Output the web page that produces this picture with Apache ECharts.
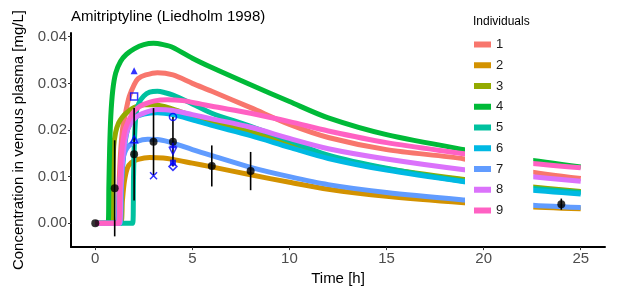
<!DOCTYPE html>
<html>
<head>
<meta charset="utf-8">
<script src="https://cdn.jsdelivr.net/npm/echarts@6/dist/echarts.min.js"></script>
<style>
  html, body { margin: 0; padding: 0; background: #fff; }
  #main { width: 618px; height: 291px; }
</style>
</head>
<body>
<div id="main"></div>
<script>
// simulated individual profiles [time h, conc mg/L]
var ind1 = [[0,0],[1.15,0],[1.22,0.008],[1.3,0.015],[1.4,0.020],[1.55,0.0235],[1.75,0.0272],[2,0.0297],[2.2,0.031],[2.6,0.0318],[3.2,0.0323],[4,0.0318],[5,0.0300],[6,0.0283],[8,0.0248],[10,0.0212],[12,0.0184],[15,0.0158],[19,0.0138],[22,0.0113],[25,0.0096]];
var ind2 = [[0,0],[1.3,0],[1.4,0.005],[1.5,0.009],[1.65,0.0118],[1.85,0.0130],[2.2,0.0137],[2.8,0.0141],[3.5,0.0140],[4,0.0137],[5,0.0129],[6,0.0121],[8,0.0104],[10,0.0088],[12,0.0073],[15,0.0058],[19,0.0044],[22,0.0036],[25,0.0031]];
var ind3 = [[0,0],[0.86,0],[0.9,0.010],[0.95,0.0165],[1.05,0.0195],[1.2,0.0215],[1.4,0.0228],[1.65,0.0238],[2,0.0248],[2.5,0.0254],[3,0.0254],[4,0.0245],[5,0.0230],[6,0.0217],[8,0.0196],[10,0.0170],[12,0.0143],[15,0.0117],[19,0.0094],[22,0.0080],[25,0.0068]];
var ind4 = [[0,0],[0.66,0],[0.7,0.008],[0.74,0.016],[0.8,0.023],[0.9,0.0285],[1.05,0.0322],[1.3,0.0347],[1.6,0.0362],[2,0.0374],[2.5,0.0383],[3,0.0386],[3.5,0.0383],[4,0.0377],[5,0.0354],[6,0.0334],[8,0.0297],[10,0.0261],[12,0.0226],[15,0.0190],[19,0.0158],[22,0.0138],[25,0.0121]];
var ind5 = [[0,0],[1.93,0],[1.97,0.010],[2.02,0.018],[2.1,0.0235],[2.25,0.0258],[2.5,0.0273],[2.8,0.0281],[3.2,0.0283],[3.6,0.0280],[4,0.0275],[5,0.0256],[6,0.0236],[8,0.0208],[10,0.0177],[12,0.0146],[15,0.0118],[19,0.0090],[22,0.0077],[25,0.0066]];
var ind6 = [[0,0],[1.28,0],[1.35,0.008],[1.45,0.014],[1.6,0.019],[1.8,0.0215],[2,0.0226],[2.5,0.0234],[3.2,0.0237],[4,0.0233],[5,0.0222],[6,0.0210],[8,0.0188],[10,0.0163],[12,0.0139],[15,0.0114],[19,0.0089],[22,0.0073],[25,0.0063]];
var ind7 = [[0,0],[1.15,0],[1.22,0.006],[1.3,0.0105],[1.4,0.0135],[1.55,0.0155],[1.75,0.0167],[2.1,0.0175],[2.7,0.0180],[3.3,0.0179],[4,0.0172],[5,0.0158],[6,0.0145],[8,0.0120],[10,0.0100],[12,0.0083],[15,0.0066],[19,0.0050],[22,0.0040],[25,0.0034]];
var ind8 = [[0,0],[1.25,0],[1.32,0.007],[1.4,0.013],[1.52,0.0175],[1.7,0.0205],[2.1,0.0228],[2.6,0.0238],[3.2,0.0244],[4,0.0242],[5,0.0233],[6,0.0224],[8,0.0206],[10,0.0182],[12,0.0160],[15,0.0138],[19,0.0115],[22,0.0102],[25,0.0090]];
var ind9 = [[0,0],[1.2,0],[1.26,0.007],[1.32,0.0135],[1.42,0.0175],[1.55,0.0203],[1.9,0.0235],[2.2,0.0248],[2.5,0.0255],[3,0.0262],[3.7,0.0265],[4.5,0.0263],[5.4,0.0256],[6,0.0251],[8,0.0236],[10,0.0218],[12,0.0198],[15,0.0173],[19,0.0149],[22,0.0131],[25,0.0119]];
var individuals = ['1', '2', '3', '4', '5', '6', '7', '8', '9'];
var profiles = [ind1, ind2, ind3, ind4, ind5, ind6, ind7, ind8, ind9];

// mean observed data with sd
var obsTime = [0, 1, 2, 3, 4, 6, 8, 24];
var obsMean = [0, 0.0075, 0.0148, 0.0175, 0.0175, 0.0123, 0.0112, 0.0041];
var obsSd = [0, 0.0103, 0.0099, 0.0072, 0.0053, 0.0044, 0.0041, 0.0012];

// individual observed points (one per shape)
var obsFilledTriangle = [[2, 0.0327]];
var obsOpenSquare = [[2, 0.0272]];
var obsOpenTriangle = [[2, 0.0180]];
var obsCross = [[3, 0.0102]];
var obsOpenCircle = [[4, 0.0228]];
var obsPlus = [[4, 0.0165]];
var obsTriangleDown = [[4, 0.0155]];
var obsFilledSquare = [[4, 0.0130]];
var obsOpenDiamond = [[4, 0.0122]];

var xTicks = [0, 5, 10, 15, 20, 25];
var yTicks = [0, 0.01, 0.02, 0.03, 0.04];

var colors = ['#F8766D', '#D39200', '#93AA00', '#00BA38', '#00C19F', '#00B9E3', '#619CFF', '#DB72FB', '#FF61C3'];
var font = 'Liberation Sans, Arial, sans-serif';

var myChart = echarts.init(document.getElementById('main'));

var series = [];
profiles.forEach(function (p, i) {
  series.push({
    name: individuals[i],
    type: 'line',
    data: p,
    showSymbol: false,
    smooth: 0.3,
    lineStyle: { width: 5, color: colors[i], join: 'round' },
    itemStyle: { color: colors[i] },
    emphasis: { disabled: true },
    z: 2
  });
});

// error bars
series.push({
  type: 'custom',
  data: obsTime.map(function (t, i) { return [t, obsMean[i] - obsSd[i], obsMean[i] + obsSd[i]]; }),
  renderItem: function (params, api) {
    var lo = api.coord([api.value(0), api.value(1)]);
    var hi = api.coord([api.value(0), api.value(2)]);
    return {
      type: 'line',
      shape: { x1: lo[0], y1: lo[1], x2: hi[0], y2: hi[1] },
      style: { stroke: '#000', lineWidth: 1.6 }
    };
  },
  z: 3
});
series.push({
  type: 'scatter',
  data: obsTime.map(function (t, i) { return [t, obsMean[i]]; }),
  symbolSize: 8,
  itemStyle: { color: '#000' },
  z: 4
});

var blue = '#0000FF';
function marker(data, symbol, hollow, size) {
  return {
    type: 'scatter',
    data: data,
    symbol: symbol,
    symbolSize: size || 7,
    itemStyle: hollow ? { color: 'rgba(0,0,0,0)', borderColor: blue, borderWidth: 1.5 } : { color: blue },
    z: 5
  };
}
series.push(marker(obsFilledTriangle, 'triangle', false));
series.push(marker(obsOpenSquare, 'rect', true));
series.push(marker(obsOpenTriangle, 'triangle', true));
series.push(marker(obsCross, 'path://M0,0L10,10M10,0L0,10', true));
series.push(marker(obsOpenCircle, 'circle', true));
series.push(marker(obsPlus, 'path://M5,0L5,10M0,5L10,5', true));
series.push(marker(obsTriangleDown, 'path://M0,0L10,0L5,8.66Z', true));
series.push(marker(obsFilledSquare, 'rect', false, 6));
series.push(marker(obsOpenDiamond, 'diamond', true, 8));

var option = {
  animation: false,
  title: [
    { text: 'Amitriptyline (Liedholm 1998)', left: 71, top: 9, padding: 0,
      textStyle: { fontFamily: font, fontSize: 15, fontWeight: 'normal', color: '#000' } },
    { text: 'Individuals', left: 473, top: 16, padding: 0,
      textStyle: { fontFamily: font, fontSize: 12, fontWeight: 'normal', color: '#000' } }
  ],
  legend: {
    data: individuals,
    orient: 'vertical',
    left: 465,
    top: 10,
    padding: [28, 30, 12, 9],
    backgroundColor: '#fff',
    icon: 'rect',
    itemWidth: 17,
    itemHeight: 6,
    itemGap: 7.75,
    selectedMode: false,
    textStyle: { fontFamily: font, fontSize: 13, color: '#1a1a1a' }
  },
  grid: { left: 71, right: 13, top: 33, bottom: 43 },
  xAxis: {
    type: 'value',
    min: -1.25,
    max: 26.25,
    name: 'Time [h]',
    nameLocation: 'middle',
    nameGap: 16,
    nameTextStyle: { fontFamily: font, fontSize: 15, color: '#000' },
    axisLine: { onZero: false, lineStyle: { color: '#000', width: 2 } },
    axisTick: { customValues: xTicks, length: 3, lineStyle: { color: '#333' } },
    axisLabel: { customValues: xTicks, fontFamily: font, fontSize: 15, color: '#4d4d4d', margin: 4 },
    splitLine: { show: false }
  },
  yAxis: {
    type: 'value',
    min: -0.0051,
    max: 0.0408,
    name: 'Concentration in venous plasma [mg/L]',
    nameLocation: 'middle',
    nameGap: 45,
    nameTextStyle: { fontFamily: font, fontSize: 15, color: '#000' },
    axisLine: { show: true, onZero: false, lineStyle: { color: '#000', width: 2 } },
    axisTick: { show: true, customValues: yTicks, length: 3, lineStyle: { color: '#333' } },
    axisLabel: { customValues: yTicks, fontFamily: font, fontSize: 15, color: '#4d4d4d', margin: 4,
      formatter: function (v) { return v.toFixed(2); } },
    splitLine: { show: false }
  },
  series: series
};

myChart.setOption(option);
window.onresize = function () {
  myChart.resize();
};
</script>
</body>
</html>
